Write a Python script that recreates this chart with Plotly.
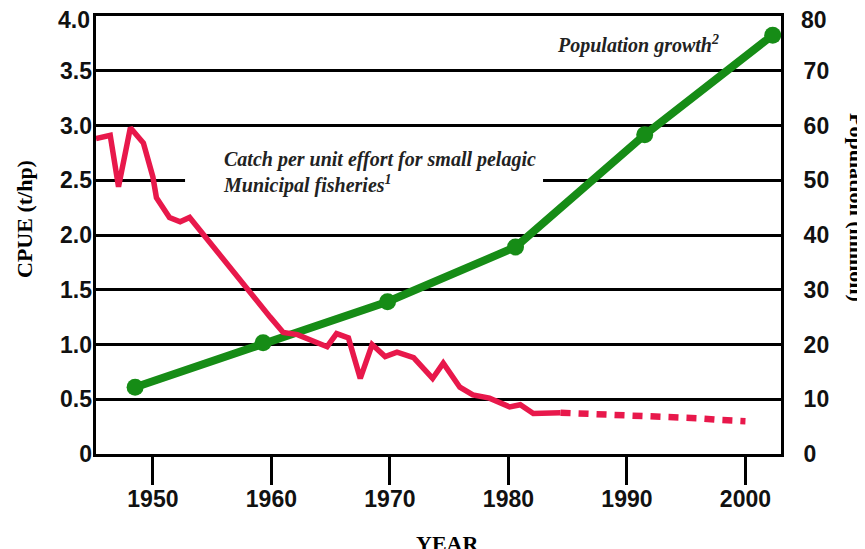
import plotly.graph_objects as go

# ---- data ----
pop_years = [1948.5, 1959.3, 1969.8, 1980.6, 1991.5, 2002.3]
pop_million = [12.2, 20.3, 27.8, 37.8, 58.3, 76.5]

cpue_years = [1945.2, 1946.4, 1947.1, 1948.1, 1949.2, 1950.0, 1950.3, 1951.4, 1952.3, 1953.1,
              1959.9, 1961.0, 1962.2, 1964.7, 1965.5, 1966.5, 1967.5, 1968.5, 1969.6, 1970.6,
              1972.0, 1973.6, 1974.5, 1975.9, 1977.0, 1978.4, 1980.1, 1981.0, 1982.1, 1984.4]
cpue_values = [2.88, 2.91, 2.44, 2.98, 2.84, 2.53, 2.34, 2.16, 2.12, 2.16,
               1.25, 1.11, 1.09, 0.98, 1.10, 1.06, 0.69, 1.00, 0.89, 0.93,
               0.88, 0.69, 0.83, 0.61, 0.54, 0.51, 0.43, 0.45, 0.37, 0.377]

proj_years = [1984.4, 1986, 1988, 1990, 1992, 1994, 1996, 1998, 2000]
proj_values = [0.377, 0.372, 0.365, 0.356, 0.35, 0.34, 0.326, 0.31, 0.30]

x_ticks = [1950, 1960, 1970, 1980, 1990, 2000]
cpue_ticks = [0, 0.5, 1.0, 1.5, 2.0, 2.5, 3.0, 3.5, 4.0]
cpue_ticktext = ["0", "0.5", "1.0", "1.5", "2.0", "2.5", "3.0", "3.5", "4.0"]
pop_ticks = [0, 10, 20, 30, 40, 50, 60, 70, 80]
pop_ticktext = ["0", "10", "20", "30", "40", "50", "60", "70", "80"]

RED = "#E8184B"
GREEN = "#168C16"
tickfont = dict(family="Liberation Sans, Arial", size=23, color="#111", weight="bold")
serif_title = dict(family="Liberation Serif, Times New Roman", size=22, color="black", weight="bold")
serif_note = dict(family="Liberation Serif, Times New Roman", size=20, color="#222", weight="bold", style="italic")

# page body adds an 8px offset; plot area spans page x 96..781, y 16..454
fig = go.Figure()

fig.add_trace(go.Scatter(
    x=pop_years, y=pop_million, yaxis="y", mode="lines+markers",
    line=dict(color=GREEN, width=8), marker=dict(color=GREEN, size=17),
    showlegend=False, hoverinfo="x+y"))

fig.add_trace(go.Scatter(
    x=cpue_years, y=cpue_values, yaxis="y2", mode="lines",
    line=dict(color=RED, width=5.5), showlegend=False))

fig.add_trace(go.Scatter(
    x=proj_years, y=proj_values, yaxis="y2", mode="lines",
    line=dict(color=RED, width=6.5, dash="10px,8px"), showlegend=False))

fig.update_layout(
    width=857, height=541,
    margin=dict(l=88, r=84, t=8, b=95, autoexpand=False),
    paper_bgcolor="white", plot_bgcolor="white",
    xaxis=dict(range=[1945.2, 2003.0], tickvals=x_ticks, ticks="outside", ticklen=28,
               tickwidth=3, tickcolor="black", showgrid=False, zeroline=False,
               showline=True, linecolor="black", linewidth=3, mirror=True,
               tickfont=tickfont, ticklabelstandoff=-6, automargin=False,
               ticklabeloverflow="allow"),
    # top tick labels (4.0 / 80) are drawn below as annotations, nudged down like the reference
    yaxis=dict(range=[0, 80], tickvals=pop_ticks[:-1], ticktext=pop_ticktext[:-1], side="right",
               showgrid=True, gridcolor="black", gridwidth=2.5, zeroline=False,
               showline=True, linecolor="black", linewidth=3, mirror=True,
               ticks="", tickfont=tickfont, ticklabelstandoff=15, automargin=False,
               ticklabeloverflow="allow"),
    yaxis2=dict(range=[0, 4], tickvals=cpue_ticks[:-1], ticktext=cpue_ticktext[:-1],
                overlaying="y", side="left", showgrid=False, zeroline=False,
                showline=False, ticks="", tickfont=tickfont, ticklabelstandoff=3,
                automargin=False, ticklabeloverflow="allow"),
)

fig.add_annotation(xref="paper", yref="y2", x=0, y=cpue_ticks[-1], xanchor="right", yanchor="middle",
                   xshift=-4, yshift=-4, showarrow=False, text=cpue_ticktext[-1], font=tickfont)
fig.add_annotation(xref="paper", yref="y", x=1, y=pop_ticks[-1], xanchor="left", yanchor="middle",
                   xshift=18, yshift=-4, showarrow=False, text=pop_ticktext[-1], font=tickfont)

# white patch that interrupts the 2.5 gridline behind the annotation
fig.add_shape(type="rect", xref="paper", yref="paper", x0=0.130, x1=0.6526, y0=0.595, y1=0.655,
              fillcolor="white", line=dict(width=0), layer="above")

fig.add_annotation(xref="paper", yref="paper", x=(221 - 96) / 685, y=(454 - 172) / 438,
                   xanchor="left", yanchor="middle", align="left", showarrow=False,
                   text="Catch per unit effort for small pelagic<br>Municipal fisheries<sup>1</sup>",
                   font=serif_note)
fig.add_annotation(xref="paper", yref="paper", x=(555 - 96) / 685, y=(454 - 44) / 438,
                   xanchor="left", yanchor="middle", showarrow=False,
                   text="Population growth<sup>2</sup>", font=serif_note)

fig.add_annotation(xref="paper", yref="paper", x=(24 - 96) / 685, y=(454 - 219) / 438,
                   xanchor="center", yanchor="middle", showarrow=False, textangle=-90,
                   text="CPUE (t/hp)", font=serif_title)
fig.add_annotation(xref="paper", yref="paper", x=(858 - 96) / 685, y=(454 - 207) / 438,
                   xanchor="center", yanchor="middle", showarrow=False, textangle=90,
                   text="Population (million)", font=serif_title)
fig.add_annotation(xref="paper", yref="paper", x=(447 - 96) / 685, y=(454 - 543) / 438,
                   xanchor="center", yanchor="middle", showarrow=False,
                   text="YEAR", font=serif_title)

fig.write_html("out.html")
